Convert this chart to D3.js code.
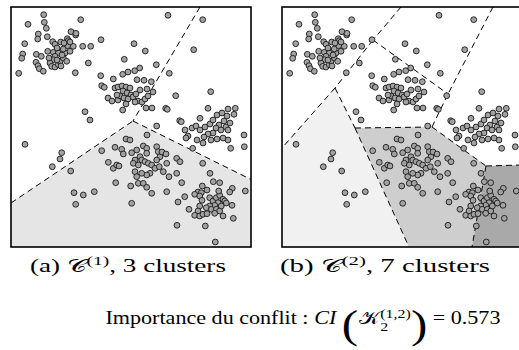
<!DOCTYPE html>
<html><head><meta charset="utf-8">
<script src="https://cdn.jsdelivr.net/npm/d3@7"></script>
<style>body{margin:0;background:#fff}svg{display:block}text{white-space:pre}</style>
</head><body>
<svg id="chart" width="519" height="350"></svg>
<script>
// ---- data (feature space 0..240 on both axes) ----
const clusterTL = [[32.7,232.3],[17,222.7],[33.3,224.7],[35.3,218.7],[69.7,227.3],[27.3,213],[26.7,208],[36.3,210.3],[41.7,205.3],[44,202.7],[49.7,205],[56.3,208.3],[57.3,206.3],[60,215.3],[64.7,212],[65,213.7],[13.7,203.3],[11.7,193],[10.7,188.7],[7.7,173.7],[25.3,192.7],[30.3,190.7],[25,184.7],[27,181.3],[28.3,178.3],[32.3,175.7],[36.7,195.7],[42.3,194.7],[47.3,194],[44,190.7],[42.3,187.3],[39,184],[40.7,180.7],[44,180],[47.3,182.3],[49,185.7],[52.3,189],[55.7,185.7],[54,194],[52.3,198],[56.7,201.3],[59,195.7],[62.3,200.7],[71.7,200.7],[79.7,200.7],[90,207.3],[77.3,184],[64.3,174.3],[46,199],[51,192],[46,187],[50,181],[38,189],[59,205],[53,204]];
const clusterMid = [[89.7,171.3],[90.7,161.3],[93.3,159.7],[102.3,168],[111.7,172.7],[117,175],[123.7,176.3],[128.7,179],[113.3,187.7],[123,203.3],[134.3,196],[145.3,182.3],[158.3,173.7],[126,167.3],[133,166.7],[140.3,165.3],[104,159],[107,160],[111,161],[115,160],[119,159],[112,156],[116,154],[120,152],[97,149],[101,146],[107,147],[109,151],[113,149],[117,148],[122,150],[125,153],[127,146],[131,145],[134,148],[137,151],[136,158],[142,155],[129,157],[124,145],[135,139],[141,139],[111.7,137],[154.7,138.7],[156.3,137.7],[164.7,151.3],[115,143],[106,152],[157,231.7],[191.7,227.3],[182.7,197.3]];
const clusterRight = [[199.7,155.3],[197,138.7],[217,138],[224.3,138.7],[223,132.7],[168.7,126.3],[170.3,125.3],[189,128.7],[181,119],[185,121],[189,117],[194,120],[199,123],[202,127],[206,132],[211,134],[216,131],[213,126],[208,122],[205,119],[202,114],[197,113],[193,110],[200,107],[206,108],[210,117],[215,120],[219,124],[174,117],[177,111],[186,107],[192,104],[217,117],[233,112],[233.3,100.3],[219.7,98.7],[181.7,98.7],[191.7,83.7],[145.7,121],[217,107],[212,109],[175,109]];
const clusterLowLeft = [[14,102.7],[50.7,94.3],[49,88],[41.3,80.3],[59.7,76],[63,54.3],[72.3,52],[83.3,55.3],[64.7,42.7],[74,135.3],[79,127],[115,108],[119,107],[90.7,96.3],[97.3,84.7],[102.3,78.7],[105.7,82],[104.7,64.3],[104,99.7],[110.7,97.7],[112.3,93],[120.7,94.3],[125.7,97],[132.3,101],[135.7,98.7],[135.7,93.7],[129,90.3],[124,87],[122.3,83.7],[127.3,82],[130.7,87],[134,85.3],[137.3,83.7],[140.7,82],[145.7,100.3],[147.3,95.3],[149,90.3],[145.7,87],[144,78.7],[148.3,80.3],[152.3,75.3],[155.7,83.7],[158,70.3],[139,73.7],[135.7,72],[130.7,73.7],[124,75.3],[125.7,70.3],[119.7,61],[127.3,63.7],[132.3,63.7],[135.7,59.7],[140.7,53.7],[155.7,55.3],[120.7,43.7],[165.7,88.7],[169,85.3],[165.7,73.7],[170.7,64.3],[166,21.7],[178,37.7],[173.7,50.3],[167,45],[136,112],[151,95],[155,93],[108,81]];
const clusterLowRight = [[191.3,61],[187,55],[190.3,54.3],[196,57],[183.7,52.7],[188.7,51],[191,46.7],[198.7,49.3],[202,46],[205.3,49.3],[208.7,51.7],[212,47.7],[213.7,46],[207,44.3],[203.7,41.7],[198.7,41],[195.3,39.3],[200.3,37.7],[205.3,37.7],[208.7,36],[210.3,41],[215.3,44],[221,41.7],[188.7,41],[187,36],[183.7,31.7],[188.7,31],[192,32.7],[196,33.3],[203.7,33.7],[212,31],[207.7,56],[194.3,21],[204.3,5],[222.3,28.7],[234.3,56],[221.3,58.7],[218.7,55],[199,73.7],[202.3,65.3],[208.7,64.3]];

// partition (a): 3 clusters
const regionsA = [[[0,44],[122,126],[240,67.5],[240,0],[0,0]]];
const edgesA = [[[189,240],[122,126]],[[0,44],[122,126]],[[122,126],[240,67.5]]];
// partition (b): 7 clusters
const regionsB = [
  [[0,99],[53,159],[73,119],[127,0],[0,0]],
  [[73,119],[150,120],[204,81],[190,0],[127,0]],
  [[204,81],[240,82],[240,0],[190,0]]
];
const edgesB = [[[119,240],[91,207]],[[91,207],[53,159]],[[53,159],[0,99]],[[53,159],[73,119]],[[73,119],[127,0]],[[73,119],[150,120]],[[150,120],[166,153]],[[91,207],[166,153]],[[211,240],[166,153]],[[150,120],[204,81]],[[204,81],[240,82]],[[204,81],[190,0]]];

const captionA = {label:"(a) ", sup:"(1)", rest:", 3 clusters"};
const captionB = {label:"(b) ", sup:"(2)", rest:", 7 clusters"};
const conflictValue = "0.573";

// ---- drawing ----
const fillsA = ["#e5e5e5"];
const fillsB = ["#f1f1f1","#cecece","#a9a9a9"];
const svg = d3.select("#chart");
const size = 240;
const x = d3.scaleLinear().domain([0,240]).range([0,size]);
const y = d3.scaleLinear().domain([0,240]).range([size,0]);
const points = [].concat(clusterTL, clusterMid, clusterRight, clusterLowLeft, clusterLowRight);
const line = d3.line().x(d=>x(d[0])).y(d=>y(d[1]));

function panel(ox, oy, regions, fills, edges, id){
  const g = svg.append("g").attr("transform",`translate(${ox},${oy})`);
  g.append("clipPath").attr("id",id).append("rect").attr("width",size).attr("height",size);
  const inner = g.append("g").attr("clip-path",`url(#${id})`);
  inner.selectAll("path.reg").data(regions).join("path").attr("class","reg")
    .attr("d", d=>line(d)+"Z").attr("fill",(d,i)=>fills[i]).attr("stroke","none");
  inner.selectAll("path.edge").data(edges).join("path").attr("class","edge")
    .attr("d", line).attr("fill","none").attr("stroke","#000").attr("stroke-width",1)
    .attr("stroke-dasharray","6,4");
  inner.selectAll("circle").data(points).join("circle")
    .attr("cx",d=>x(d[0])).attr("cy",d=>y(d[1])).attr("r",2.9)
    .attr("fill","#a2a2a2").attr("stroke","#1a1a1a").attr("stroke-width",0.9);
  g.append("rect").attr("width",size).attr("height",size).attr("fill","none")
    .attr("stroke","#000").attr("stroke-width",1.6);
}
panel(11,7,regionsA,fillsA,edgesA,"clipA");
panel(282,7,regionsB,fillsB,edgesB,"clipB");

const serif = "'Liberation Serif','DejaVu Serif',serif";
const mathF = "'DejaVu Serif','DejaVu Sans','Liberation Serif',serif";
function mathLine(cx, by, targetW, pieces){
  const g = svg.append("g");
  let cur = 0, pending = 0;
  pieces.forEach(p=>{
    const t = g.append("text").attr("x",cur+(p.dx||0)).attr("y",by+(p.dy||0))
      .attr("font-size",p.fs).attr("font-family",p.ff||serif)
      .attr("font-style",p.it?"italic":"normal").attr("fill","#000").text(p.t);
    const w = t.node().getComputedTextLength() + (p.dx||0);
    if(p.stay){ pending = w; }
    else { cur += Math.max(w,pending); pending = 0; }
  });
  const sx = targetW/cur;
  g.attr("transform",`translate(${cx-targetW/2},0) scale(${sx},1)`);
}
function caption(cx, by, w, c){
  mathLine(cx, by, w, [
    {t:c.label, fs:18},
    {t:"𝒞", fs:18, ff:mathF},
    {t:c.sup, fs:13, dy:-7},
    {t:c.rest, fs:18}
  ]);
}
caption(128, 272, 196, captionA);
caption(385, 272, 210, captionB);
mathLine(303, 324, 395, [
  {t:"Importance du conflit : ", fs:18},
  {t:"CI ", fs:18, it:true},
  {t:"(", fs:40, dy:14},
  {t:"𝒦", fs:18, ff:mathF, dx:1},
  {t:"2", fs:13, dy:7, stay:true},
  {t:"(1,2)", fs:13, dy:-6},
  {t:")", fs:40, dy:14},
  {t:" = "+conflictValue, fs:18}
]);
</script>
</body></html>
